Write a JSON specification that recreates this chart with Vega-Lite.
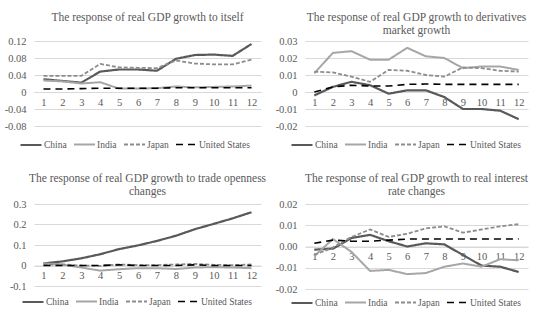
{
  "$schema": "https://vega.github.io/schema/vega-lite/v6.json",
  "padding": {"left": 4, "top": 11, "right": 5, "bottom": 2},
  "background": "white",
  "config": {
    "font": "Liberation Serif",
    "view": {"stroke": null},
    "title": {"font": "Liberation Serif", "fontSize": 11.5, "fontWeight": "normal", "color": "#595959", "lineHeight": 13},
    "axis": {"labelFont": "Liberation Serif", "labelFontSize": 10.5, "labelColor": "#595959", "ticks": false, "title": null, "gridColor": "#d9d9d9", "gridWidth": 1, "domainColor": "#d9d9d9"},
    "axisX": {"grid": false, "labelAngle": 0, "labelPadding": 5},
    "axisY": {"domain": false, "labelPadding": 8},
    "legend": {"direction": "horizontal", "title": null, "symbolType": "stroke", "symbolSize": 441, "labelFont": "Liberation Serif", "labelFontSize": 9.5, "labelColor": "#595959", "columnPadding": 3, "labelOffset": 1, "gridAlign": "none"}
  },
  "data": {"values": [
    {"p":1,"t":1,"c":"China","v":0.030},{"p":1,"t":2,"c":"China","v":0.026},{"p":1,"t":3,"c":"China","v":0.022},{"p":1,"t":4,"c":"China","v":0.048},{"p":1,"t":5,"c":"China","v":0.053},{"p":1,"t":6,"c":"China","v":0.053},{"p":1,"t":7,"c":"China","v":0.050},{"p":1,"t":8,"c":"China","v":0.078},{"p":1,"t":9,"c":"China","v":0.087},{"p":1,"t":10,"c":"China","v":0.088},{"p":1,"t":11,"c":"China","v":0.085},{"p":1,"t":12,"c":"China","v":0.113},
    {"p":1,"t":1,"c":"India","v":0.027},{"p":1,"t":2,"c":"India","v":0.025},{"p":1,"t":3,"c":"India","v":0.020},{"p":1,"t":4,"c":"India","v":0.023},{"p":1,"t":5,"c":"India","v":0.008},{"p":1,"t":6,"c":"India","v":0.008},{"p":1,"t":7,"c":"India","v":0.009},{"p":1,"t":8,"c":"India","v":0.013},{"p":1,"t":9,"c":"India","v":0.011},{"p":1,"t":10,"c":"India","v":0.012},{"p":1,"t":11,"c":"India","v":0.013},{"p":1,"t":12,"c":"India","v":0.015},
    {"p":1,"t":1,"c":"Japan","v":0.038},{"p":1,"t":2,"c":"Japan","v":0.038},{"p":1,"t":3,"c":"Japan","v":0.038},{"p":1,"t":4,"c":"Japan","v":0.066},{"p":1,"t":5,"c":"Japan","v":0.058},{"p":1,"t":6,"c":"Japan","v":0.057},{"p":1,"t":7,"c":"Japan","v":0.056},{"p":1,"t":8,"c":"Japan","v":0.074},{"p":1,"t":9,"c":"Japan","v":0.067},{"p":1,"t":10,"c":"Japan","v":0.065},{"p":1,"t":11,"c":"Japan","v":0.065},{"p":1,"t":12,"c":"Japan","v":0.076},
    {"p":1,"t":1,"c":"United States","v":0.007},{"p":1,"t":2,"c":"United States","v":0.007},{"p":1,"t":3,"c":"United States","v":0.008},{"p":1,"t":4,"c":"United States","v":0.009},{"p":1,"t":5,"c":"United States","v":0.009},{"p":1,"t":6,"c":"United States","v":0.009},{"p":1,"t":7,"c":"United States","v":0.009},{"p":1,"t":8,"c":"United States","v":0.010},{"p":1,"t":9,"c":"United States","v":0.010},{"p":1,"t":10,"c":"United States","v":0.010},{"p":1,"t":11,"c":"United States","v":0.010},{"p":1,"t":12,"c":"United States","v":0.010},
    {"p":2,"t":1,"c":"China","v":-0.002},{"p":2,"t":2,"c":"China","v":0.003},{"p":2,"t":3,"c":"China","v":0.006},{"p":2,"t":4,"c":"China","v":0.004},{"p":2,"t":5,"c":"China","v":-0.001},{"p":2,"t":6,"c":"China","v":0.001},{"p":2,"t":7,"c":"China","v":0.001},{"p":2,"t":8,"c":"China","v":-0.003},{"p":2,"t":9,"c":"China","v":-0.010},{"p":2,"t":10,"c":"China","v":-0.010},{"p":2,"t":11,"c":"China","v":-0.011},{"p":2,"t":12,"c":"China","v":-0.016},
    {"p":2,"t":1,"c":"India","v":0.011},{"p":2,"t":2,"c":"India","v":0.023},{"p":2,"t":3,"c":"India","v":0.024},{"p":2,"t":4,"c":"India","v":0.019},{"p":2,"t":5,"c":"India","v":0.019},{"p":2,"t":6,"c":"India","v":0.026},{"p":2,"t":7,"c":"India","v":0.021},{"p":2,"t":8,"c":"India","v":0.020},{"p":2,"t":9,"c":"India","v":0.014},{"p":2,"t":10,"c":"India","v":0.015},{"p":2,"t":11,"c":"India","v":0.015},{"p":2,"t":12,"c":"India","v":0.013},
    {"p":2,"t":1,"c":"Japan","v":0.012},{"p":2,"t":2,"c":"Japan","v":0.0115},{"p":2,"t":3,"c":"Japan","v":0.009},{"p":2,"t":4,"c":"Japan","v":0.006},{"p":2,"t":5,"c":"Japan","v":0.013},{"p":2,"t":6,"c":"Japan","v":0.0125},{"p":2,"t":7,"c":"Japan","v":0.010},{"p":2,"t":8,"c":"Japan","v":0.009},{"p":2,"t":9,"c":"Japan","v":0.0145},{"p":2,"t":10,"c":"Japan","v":0.014},{"p":2,"t":11,"c":"Japan","v":0.0125},{"p":2,"t":12,"c":"Japan","v":0.012},
    {"p":2,"t":1,"c":"United States","v":0.000},{"p":2,"t":2,"c":"United States","v":0.003},{"p":2,"t":3,"c":"United States","v":0.004},{"p":2,"t":4,"c":"United States","v":0.0035},{"p":2,"t":5,"c":"United States","v":0.0035},{"p":2,"t":6,"c":"United States","v":0.0045},{"p":2,"t":7,"c":"United States","v":0.0047},{"p":2,"t":8,"c":"United States","v":0.0045},{"p":2,"t":9,"c":"United States","v":0.0045},{"p":2,"t":10,"c":"United States","v":0.0045},{"p":2,"t":11,"c":"United States","v":0.0045},{"p":2,"t":12,"c":"United States","v":0.0045},
    {"p":3,"t":1,"c":"China","v":0.010},{"p":3,"t":2,"c":"China","v":0.020},{"p":3,"t":3,"c":"China","v":0.035},{"p":3,"t":4,"c":"China","v":0.055},{"p":3,"t":5,"c":"China","v":0.080},{"p":3,"t":6,"c":"China","v":0.098},{"p":3,"t":7,"c":"China","v":0.120},{"p":3,"t":8,"c":"China","v":0.145},{"p":3,"t":9,"c":"China","v":0.177},{"p":3,"t":10,"c":"China","v":0.203},{"p":3,"t":11,"c":"China","v":0.230},{"p":3,"t":12,"c":"China","v":0.260},
    {"p":3,"t":1,"c":"India","v":0.010},{"p":3,"t":2,"c":"India","v":0.005},{"p":3,"t":3,"c":"India","v":-0.010},{"p":3,"t":4,"c":"India","v":-0.025},{"p":3,"t":5,"c":"India","v":-0.018},{"p":3,"t":6,"c":"India","v":-0.013},{"p":3,"t":7,"c":"India","v":-0.013},{"p":3,"t":8,"c":"India","v":-0.017},{"p":3,"t":9,"c":"India","v":-0.010},{"p":3,"t":10,"c":"India","v":-0.008},{"p":3,"t":11,"c":"India","v":-0.010},{"p":3,"t":12,"c":"India","v":-0.013},
    {"p":3,"t":1,"c":"Japan","v":0.005},{"p":3,"t":2,"c":"Japan","v":0.005},{"p":3,"t":3,"c":"Japan","v":0.000},{"p":3,"t":4,"c":"Japan","v":-0.002},{"p":3,"t":5,"c":"Japan","v":0.005},{"p":3,"t":6,"c":"Japan","v":0.002},{"p":3,"t":7,"c":"Japan","v":0.002},{"p":3,"t":8,"c":"Japan","v":0.005},{"p":3,"t":9,"c":"Japan","v":0.008},{"p":3,"t":10,"c":"Japan","v":0.003},{"p":3,"t":11,"c":"Japan","v":0.002},{"p":3,"t":12,"c":"Japan","v":0.005},
    {"p":3,"t":1,"c":"United States","v":0.000},{"p":3,"t":2,"c":"United States","v":0.000},{"p":3,"t":3,"c":"United States","v":0.000},{"p":3,"t":4,"c":"United States","v":0.000},{"p":3,"t":5,"c":"United States","v":0.003},{"p":3,"t":6,"c":"United States","v":0.000},{"p":3,"t":7,"c":"United States","v":0.000},{"p":3,"t":8,"c":"United States","v":0.000},{"p":3,"t":9,"c":"United States","v":0.003},{"p":3,"t":10,"c":"United States","v":0.000},{"p":3,"t":11,"c":"United States","v":0.000},{"p":3,"t":12,"c":"United States","v":0.000},
    {"p":4,"t":1,"c":"China","v":-0.0015},{"p":4,"t":2,"c":"China","v":-0.001},{"p":4,"t":3,"c":"China","v":0.004},{"p":4,"t":4,"c":"China","v":0.0055},{"p":4,"t":5,"c":"China","v":0.0025},{"p":4,"t":6,"c":"China","v":0.000},{"p":4,"t":7,"c":"China","v":0.0015},{"p":4,"t":8,"c":"China","v":0.001},{"p":4,"t":9,"c":"China","v":-0.004},{"p":4,"t":10,"c":"China","v":-0.009},{"p":4,"t":11,"c":"China","v":-0.0095},{"p":4,"t":12,"c":"China","v":-0.012},
    {"p":4,"t":1,"c":"India","v":-0.0045},{"p":4,"t":2,"c":"India","v":0.0035},{"p":4,"t":3,"c":"India","v":-0.0025},{"p":4,"t":4,"c":"India","v":-0.0115},{"p":4,"t":5,"c":"India","v":-0.011},{"p":4,"t":6,"c":"India","v":-0.013},{"p":4,"t":7,"c":"India","v":-0.0125},{"p":4,"t":8,"c":"India","v":-0.0095},{"p":4,"t":9,"c":"India","v":-0.008},{"p":4,"t":10,"c":"India","v":-0.0095},{"p":4,"t":11,"c":"India","v":-0.006},{"p":4,"t":12,"c":"India","v":-0.0065},
    {"p":4,"t":1,"c":"Japan","v":-0.004},{"p":4,"t":2,"c":"Japan","v":-0.0005},{"p":4,"t":3,"c":"Japan","v":0.0045},{"p":4,"t":4,"c":"Japan","v":0.008},{"p":4,"t":5,"c":"Japan","v":0.0045},{"p":4,"t":6,"c":"Japan","v":0.006},{"p":4,"t":7,"c":"Japan","v":0.0085},{"p":4,"t":8,"c":"Japan","v":0.0095},{"p":4,"t":9,"c":"Japan","v":0.0065},{"p":4,"t":10,"c":"Japan","v":0.008},{"p":4,"t":11,"c":"Japan","v":0.0095},{"p":4,"t":12,"c":"Japan","v":0.0105},
    {"p":4,"t":1,"c":"United States","v":0.0015},{"p":4,"t":2,"c":"United States","v":0.003},{"p":4,"t":3,"c":"United States","v":0.0025},{"p":4,"t":4,"c":"United States","v":0.0025},{"p":4,"t":5,"c":"United States","v":0.003},{"p":4,"t":6,"c":"United States","v":0.0035},{"p":4,"t":7,"c":"United States","v":0.0035},{"p":4,"t":8,"c":"United States","v":0.0035},{"p":4,"t":9,"c":"United States","v":0.0035},{"p":4,"t":10,"c":"United States","v":0.0035},{"p":4,"t":11,"c":"United States","v":0.0035},{"p":4,"t":12,"c":"United States","v":0.0035}
  ]},
  "columns": 2,
  "spacing": {"row": 22, "column": 8},
  "resolve": {"scale": {"x": "independent", "y": "independent", "color": "independent", "strokeDash": "independent", "strokeWidth": "independent"}},
  "concat": [
    {
      "title": {"text": "The response of real GDP growth to itself", "offset": 13},
      "width": 227, "height": 85,
      "transform": [{"filter": "datum.p == 1"}],
      "mark": {"type": "line"},
      "encoding": {
        "x": {"field": "t", "type": "ordinal", "scale": {"type": "point", "padding": 0.5}, "axis": {"offset": -34}},
        "y": {"field": "v", "type": "quantitative", "scale": {"domain": [-0.08, 0.12], "nice": false, "zero": false}, "axis": {"values": [-0.08, -0.04, 0, 0.04, 0.08, 0.12], "labelExpr": "datum.value == 0 ? '0' : replace(format(datum.value, '.2f'), '−', '-')"}},
        "color": {"field": "c", "type": "nominal", "scale": {"domain": ["China", "India", "Japan", "United States"], "range": ["#595959", "#a6a6a6", "#8c8c8c", "#000000"]}, "legend": {"orient": "none", "legendX": -15, "legendY": 92}},
        "strokeDash": {"field": "c", "type": "nominal", "scale": {"domain": ["China", "India", "Japan", "United States"], "range": [[1, 0], [1, 0], [4, 2], [7, 5]]}},
        "strokeWidth": {"field": "c", "type": "nominal", "scale": {"domain": ["China", "India", "Japan", "United States"], "range": [2.2, 1.6, 2, 2.8]}}
      }
    },
    {
      "title": {"text": ["The response of real GDP growth to derivatives", "market growth"], "offset": 0},
      "width": 223, "height": 85,
      "transform": [{"filter": "datum.p == 2"}],
      "mark": {"type": "line"},
      "encoding": {
        "x": {"field": "t", "type": "ordinal", "scale": {"type": "point", "padding": 0.5}, "axis": {"offset": -34}},
        "y": {"field": "v", "type": "quantitative", "scale": {"domain": [-0.02, 0.03], "nice": false, "zero": false}, "axis": {"values": [-0.02, -0.01, 0, 0.01, 0.02, 0.03], "labelExpr": "datum.value == 0 ? '0' : replace(format(datum.value, '.2f'), '−', '-')"}},
        "color": {"field": "c", "type": "nominal", "scale": {"domain": ["China", "India", "Japan", "United States"], "range": ["#595959", "#a6a6a6", "#8c8c8c", "#000000"]}, "legend": {"orient": "none", "legendX": -15, "legendY": 92}},
        "strokeDash": {"field": "c", "type": "nominal", "scale": {"domain": ["China", "India", "Japan", "United States"], "range": [[1, 0], [1, 0], [4, 2], [7, 5]]}},
        "strokeWidth": {"field": "c", "type": "nominal", "scale": {"domain": ["China", "India", "Japan", "United States"], "range": [2.2, 1.6, 2, 2.8]}}
      }
    },
    {
      "title": {"text": ["The response of real GDP growth to trade openness", "changes"], "offset": 2},
      "width": 227, "height": 82,
      "transform": [{"filter": "datum.p == 3"}],
      "mark": {"type": "line"},
      "encoding": {
        "x": {"field": "t", "type": "ordinal", "scale": {"type": "point", "padding": 0.5}, "axis": {"offset": -20.5}},
        "y": {"field": "v", "type": "quantitative", "scale": {"domain": [-0.1, 0.3], "nice": false, "zero": false}, "axis": {"values": [-0.1, 0, 0.1, 0.2, 0.3], "labelExpr": "datum.value == 0 ? '0' : replace(format(datum.value, '.1f'), '−', '-')"}},
        "color": {"field": "c", "type": "nominal", "scale": {"domain": ["China", "India", "Japan", "United States"], "range": ["#595959", "#a6a6a6", "#8c8c8c", "#000000"]}, "legend": {"orient": "none", "legendX": -13, "legendY": 86}},
        "strokeDash": {"field": "c", "type": "nominal", "scale": {"domain": ["China", "India", "Japan", "United States"], "range": [[1, 0], [1, 0], [4, 2], [7, 5]]}},
        "strokeWidth": {"field": "c", "type": "nominal", "scale": {"domain": ["China", "India", "Japan", "United States"], "range": [2.2, 1.6, 2, 2.8]}}
      }
    },
    {
      "title": {"text": ["The response of real GDP growth to real interest", "rate changes"], "offset": 2},
      "width": 223, "height": 85,
      "transform": [{"filter": "datum.p == 4"}],
      "mark": {"type": "line"},
      "encoding": {
        "x": {"field": "t", "type": "ordinal", "scale": {"type": "point", "padding": 0.5}, "axis": {"offset": -42.5}},
        "y": {"field": "v", "type": "quantitative", "scale": {"domain": [-0.02, 0.02], "nice": false, "zero": false}, "axis": {"values": [-0.02, -0.01, 0, 0.01, 0.02], "labelExpr": "replace(format(datum.value, '.2f'), '−', '-')"}},
        "color": {"field": "c", "type": "nominal", "scale": {"domain": ["China", "India", "Japan", "United States"], "range": ["#595959", "#a6a6a6", "#8c8c8c", "#000000"]}, "legend": {"orient": "none", "legendX": -15, "legendY": 87}},
        "strokeDash": {"field": "c", "type": "nominal", "scale": {"domain": ["China", "India", "Japan", "United States"], "range": [[1, 0], [1, 0], [4, 2], [7, 5]]}},
        "strokeWidth": {"field": "c", "type": "nominal", "scale": {"domain": ["China", "India", "Japan", "United States"], "range": [2.2, 1.6, 2, 2.8]}}
      }
    }
  ]
}
